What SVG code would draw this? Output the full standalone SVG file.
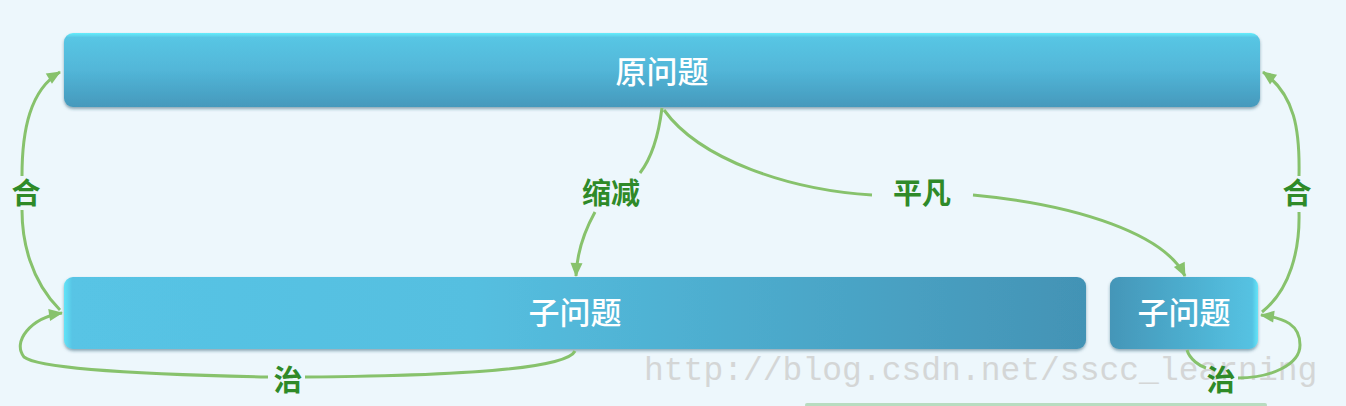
<svg xmlns="http://www.w3.org/2000/svg" width="1346" height="406" viewBox="0 0 1346 406">
<style>
.box{stroke:none}
.t{font-family:"Noto Sans CJK SC","Noto Sans",sans-serif;font-size:31px;fill:#ffffff;text-anchor:middle;font-weight:500}
.lbl{font-family:"Noto Sans CJK SC","Noto Sans",sans-serif;font-size:29px;fill:#2f8a28;text-anchor:middle;font-weight:bold}
.c{fill:none;stroke:#87c26c;stroke-width:3}
.wm{font-family:"Liberation Mono","DejaVu Serif",monospace;font-size:33px;fill:#d4d6d6}
</style>
<defs>
<linearGradient id="gTop" x1="0" y1="0" x2="0" y2="1">
<stop offset="0" stop-color="#66eefc"/>
<stop offset="0.06" stop-color="#58c6e4"/>
<stop offset="0.5" stop-color="#52b6d8"/>
<stop offset="1" stop-color="#4599bc"/>
</linearGradient>
<linearGradient id="gL" x1="0" y1="0" x2="1" y2="0">
<stop offset="0" stop-color="#62e4f8"/>
<stop offset="0.008" stop-color="#58c4e5"/>
<stop offset="0.4" stop-color="#55bfe0"/>
<stop offset="1" stop-color="#4393b5"/>
</linearGradient>
<linearGradient id="gR" x1="0" y1="0" x2="1" y2="0">
<stop offset="0" stop-color="#4496b8"/>
<stop offset="0.96" stop-color="#55c2e2"/>
<stop offset="1" stop-color="#66e4f8"/>
</linearGradient>
<filter id="sh" x="-5%" y="-20%" width="110%" height="150%">
<feDropShadow dx="0" dy="2" stdDeviation="1.5" flood-color="#2a5a70" flood-opacity="0.5"/>
</filter>
<marker id="ah" viewBox="0 0 14 12" refX="13" refY="6" markerWidth="14" markerHeight="12" markerUnits="userSpaceOnUse" orient="auto" overflow="visible">
<path d="M0,0 L14,6 L0,12 z" fill="#87c26c"/>
</marker>
</defs>
<rect width="1346" height="406" fill="#edf7fc"/>
<g id="n-top">
<rect class="box" x="64" y="33" width="1196" height="74" rx="9" fill="url(#gTop)" filter="url(#sh)"/>
<text class="t" x="662" y="83">原问题</text>
</g>
<g id="n-sub-left">
<rect class="box" x="64" y="277" width="1022" height="72" rx="9" fill="url(#gL)" filter="url(#sh)"/>
<text class="t" x="575" y="324">子问题</text>
</g>
<g id="n-sub-right">
<rect class="box" x="1110" y="277" width="148" height="72" rx="9" fill="url(#gR)" filter="url(#sh)"/>
<text class="t" x="1184" y="324">子问题</text>
</g>
<text class="wm" x="644" y="380">http://blog.csdn.net/sscc_learning</text>
<g id="connectors">
<path class="c" d="M60,310 C30,280 22,240 22,210"/>
<path class="c" d="M22,176 C22,130 30,90 60,72" marker-end="url(#ah)"/>
<path class="c" d="M662,108 C658,140 650,160 640,173"/>
<path class="c" d="M595,212 C585,230 577,250 576,276" marker-end="url(#ah)"/>
<path class="c" d="M664,110 C700,160 790,190 872,195"/>
<path class="c" d="M973,195 C1080,205 1165,235 1185,276" marker-end="url(#ah)"/>
<path class="c" d="M1262,312 C1290,290 1300,250 1299,212"/>
<path class="c" d="M1299,176 C1300,130 1295,95 1263,72" marker-end="url(#ah)"/>
<path class="c" d="M575,351 C565,372 420,376 305,377"/>
<path class="c" d="M268,377 C170,375 40,370 24,357 C12,342 30,318 62,313" marker-end="url(#ah)"/>
<path class="c" d="M1187,350 C1190,360 1200,366 1206,368"/>
<path class="c" d="M1238,378 C1270,378 1300,365 1300,345 C1300,325 1285,318 1261,315" marker-end="url(#ah)"/>
</g>
<g id="labels">
<text class="lbl" x="26" y="204">合</text>
<text class="lbl" x="1297" y="204">合</text>
<text class="lbl" x="611" y="204">缩减</text>
<text class="lbl" x="922" y="204">平凡</text>
<text class="lbl" x="288" y="391">治</text>
<text class="lbl" x="1221" y="391">治</text>
</g>
<rect x="805" y="403" width="462" height="4" rx="2" fill="#b8dcc0"/>
</svg>
